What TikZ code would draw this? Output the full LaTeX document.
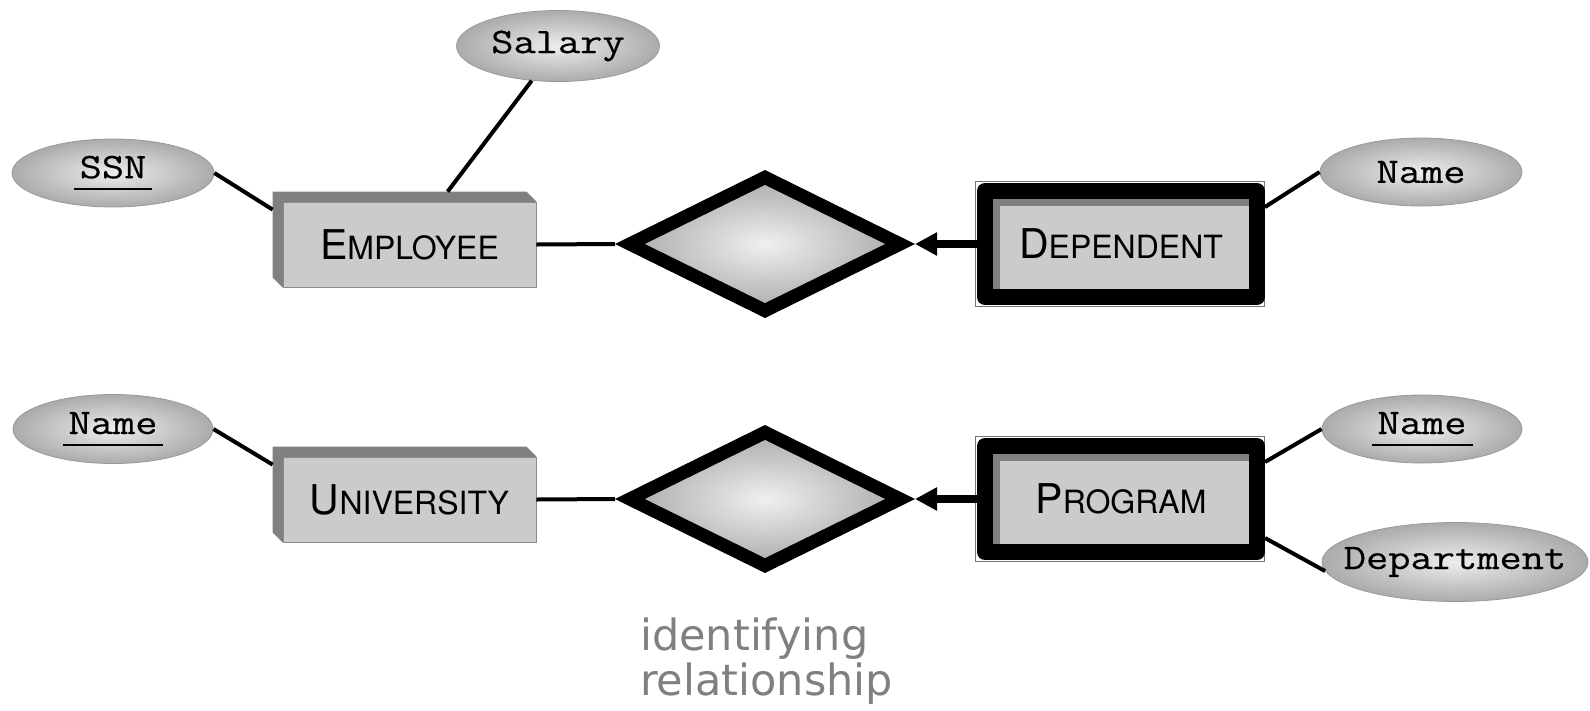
\documentclass[tikz,border=0pt]{standalone}
\usepackage{fontspec}
\setmonofont{Latin Modern Mono}[FakeStretch=1.2,FakeBold=0.4]
\newfontfamily\entfont{TeX Gyre Heros}
\newfontfamily\annfont{DejaVu Sans}
\usetikzlibrary{shapes.geometric,arrows.meta,backgrounds}
\definecolor{face}{HTML}{CBCBCB}
\definecolor{band}{HTML}{808080}
\definecolor{rim}{HTML}{9A9A9A}
\definecolor{anncol}{HTML}{808080}
\newcommand\entname[2]{{\fontsize{41}{41}\selectfont #1}{\fontsize{32}{32}\selectfont #2}}
\newcommand\att[1]{\makebox[0pt]{\fontsize{36}{36}\selectfont\ttfamily #1}}
\newcommand\keyul[1]{\setbox0\hbox{#1}\hbox{\kern-6pt\rlap{\rule[-12pt]{\dimexpr\wd0+12pt\relax}{2.2pt}}\kern6pt\box0}}
\tikzset{
  attr/.style={ellipse, draw=rim, line width=0.8pt, inner color=white!93!black, outer color=black!33, inner sep=0pt},
  entity/.style={rectangle, draw=black!45, line width=0.8pt, fill=face, minimum width=253pt, minimum height=85pt, inner sep=0pt, font=\entfont},
  weakent/.style={rectangle, draw=black, line width=16pt, line join=round, fill=face, minimum width=272pt, minimum height=106pt, inner sep=0pt, font=\entfont,
    path picture={\fill[band] (path picture bounding box.north west) rectangle ([yshift=-15pt]path picture bounding box.north east);
                  \fill[band] (path picture bounding box.north west) rectangle ([xshift=15pt]path picture bounding box.south west);}},
  relbox/.style={diamond, fill=black, minimum width=300pt, minimum height=148pt, inner sep=0pt, outer sep=0pt},
  conn/.style={line width=4pt, black},
  idarrow/.style={line width=8pt, black, -{Triangle[length=22pt,width=22pt]}},
  annot/.style={font=\annfont\fontsize{43}{45}\selectfont, text=anncol, inner sep=0pt, anchor=base west}
}
\begin{document}
\begin{tikzpicture}[x=1pt,y=-1pt]
\useasboundingbox (0,0) rectangle (1590,710);
\begin{scope}[on background layer]
\fill[white] (0,0) rectangle (1590,710);
\end{scope}

% entities
\node[entity] (emp) at (409.5,244.5) {\entname{E}{MPLOYEE}};
\node[entity] (uni) at (409.5,499.5) {\entname{U}{NIVERSITY}};
\node[weakent] (dep) at (1121,244) {\entname{D}{EPENDENT}};
\node[weakent] (prog) at (1121,499) {\entname{P}{ROGRAM}};

% relationships
\node[relbox] (d1) at (765,244) {};
\node[relbox] (d2) at (765,499) {};
\shade[inner color=white!94!black, outer color=black!30] ([xshift=30pt]d1.west) -- ([yshift=-15pt]d1.north) -- ([xshift=-30pt]d1.east) -- ([yshift=15pt]d1.south) -- cycle;
\shade[inner color=white!94!black, outer color=black!30] ([xshift=30pt]d2.west) -- ([yshift=-15pt]d2.north) -- ([xshift=-30pt]d2.east) -- ([yshift=15pt]d2.south) -- cycle;

% attributes
\node[attr, minimum width=203pt, minimum height=71pt] (sal) at (558,46) {\att{Salary}};
\node[attr, minimum width=202pt, minimum height=68pt] (ssn) at (113,173) {\att{\keyul{SSN}}};
\node[attr, minimum width=202pt, minimum height=68pt] (dnm) at (1421,172) {\att{Name}};
\node[attr, minimum width=200pt, minimum height=69pt] (unm) at (113,429) {\att{\keyul{Name}}};
\node[attr, minimum width=200pt, minimum height=68pt] (pnm) at (1422,429) {\att{\keyul{Name}}};
\node[attr, minimum width=266pt, minimum height=79pt] (dept) at (1455,562) {\att{Department}};

% annotation
\node[annot] (ann1) at (640,650) {identifying};
\node[annot] (ann2) at (640,695) {relationship};

% connectors
\draw[conn] (ssn.east) -- ([xshift=-10pt,yshift=-8pt]emp.north west);
\draw[conn] (sal) -- ([xshift=165pt,yshift=10pt]emp.north west);
\draw[conn] (emp.east) -- (d1.west);
\draw[idarrow] (dep.west) -- (d1.east);
\draw[conn] ([yshift=-24pt]dep.north east) -- (dnm.west);

\draw[conn] (unm.east) -- ([xshift=-10pt,yshift=-8pt]uni.north west);
\draw[conn] (uni.east) -- (d2.west);
\draw[idarrow] (prog.west) -- (d2.east);
\draw[conn] ([yshift=-24pt]prog.north east) -- (pnm.west);
\draw[conn] ([yshift=22pt]prog.south east) -- (dept.184);

% 3D backs
\begin{scope}[on background layer]
\fill[band] ([xshift=-10pt,yshift=10pt]emp.north west) -- ([xshift=-10pt,yshift=10pt]emp.north east) -- (emp.north east) -- (emp.south west) -- ([xshift=-10pt,yshift=10pt]emp.south west) -- cycle;
\fill[band] ([xshift=-10pt,yshift=10pt]uni.north west) -- ([xshift=-10pt,yshift=10pt]uni.north east) -- (uni.north east) -- (uni.south west) -- ([xshift=-10pt,yshift=10pt]uni.south west) -- cycle;
\draw[black!55, line width=0.8pt] ([xshift=-2pt,yshift=2pt]dep.north west) rectangle ([xshift=-1pt,yshift=-1pt]dep.south east);
\draw[black!55, line width=0.8pt] ([xshift=-2pt,yshift=2pt]prog.north west) rectangle ([xshift=-1pt,yshift=-1pt]prog.south east);
\end{scope}
\end{tikzpicture}
\end{document}
